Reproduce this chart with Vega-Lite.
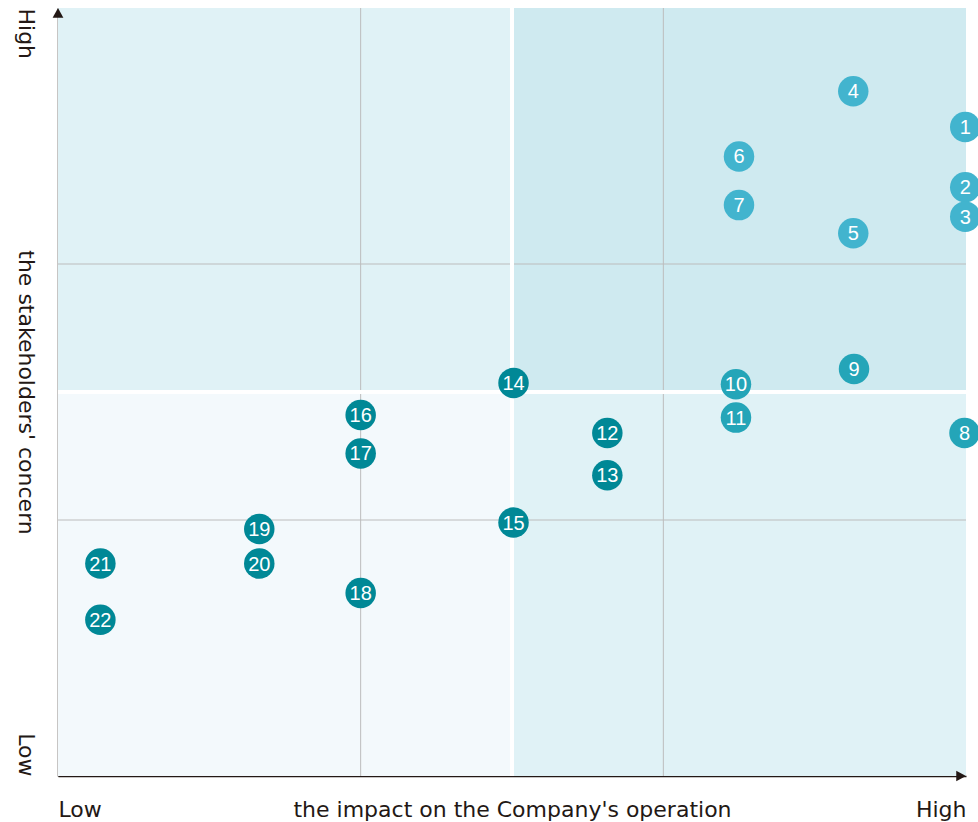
{
  "$schema": "https://vega.github.io/schema/vega-lite/v6.json",
  "width": 908,
  "height": 768,
  "autosize": {"type": "none"},
  "padding": {"left": 58, "top": 8, "right": 12, "bottom": 46},
  "background": "white",
  "config": {"view": {"stroke": null}, "font": "Liberation Sans"},
  "datasets": {
    "quads": [
      {"x1": 0, "x2": 3, "y1": 3, "y2": 6, "fill": "#e0f2f6"},
      {"x1": 3, "x2": 6, "y1": 3, "y2": 6, "fill": "#cfeaf0"},
      {"x1": 0, "x2": 3, "y1": 0, "y2": 3, "fill": "#f3f9fc"},
      {"x1": 3, "x2": 6, "y1": 0, "y2": 3, "fill": "#e0f2f6"}
    ],
    "vgrid": [{"v": 2}, {"v": 4}],
    "mid": [{"v": 3}],
    "arrowTop": [{"x": 0, "y": 6}],
    "arrowRight": [{"x": 6, "y": 0}],
    "points": [
      {"id": "1", "x": 5.995, "y": 5.07, "g": "a"},
      {"id": "2", "x": 5.995, "y": 4.60, "g": "a"},
      {"id": "3", "x": 5.995, "y": 4.37, "g": "a"},
      {"id": "4", "x": 5.255, "y": 5.35, "g": "a"},
      {"id": "5", "x": 5.255, "y": 4.24, "g": "a"},
      {"id": "6", "x": 4.50, "y": 4.84, "g": "a"},
      {"id": "7", "x": 4.50, "y": 4.46, "g": "a"},
      {"id": "8", "x": 5.99, "y": 2.68, "g": "b"},
      {"id": "9", "x": 5.26, "y": 3.18, "g": "b"},
      {"id": "10", "x": 4.48, "y": 3.06, "g": "b"},
      {"id": "11", "x": 4.48, "y": 2.80, "g": "b"},
      {"id": "12", "x": 3.63, "y": 2.68, "g": "c"},
      {"id": "13", "x": 3.63, "y": 2.35, "g": "c"},
      {"id": "14", "x": 3.01, "y": 3.07, "g": "c"},
      {"id": "15", "x": 3.01, "y": 1.98, "g": "c"},
      {"id": "16", "x": 2.0, "y": 2.82, "g": "c"},
      {"id": "17", "x": 2.0, "y": 2.52, "g": "c"},
      {"id": "18", "x": 2.0, "y": 1.43, "g": "c"},
      {"id": "19", "x": 1.33, "y": 1.93, "g": "c"},
      {"id": "20", "x": 1.33, "y": 1.66, "g": "c"},
      {"id": "21", "x": 0.28, "y": 1.66, "g": "c"},
      {"id": "22", "x": 0.28, "y": 1.22, "g": "c"}
    ]
  },
  "layer": [
    {
      "data": {"name": "quads"},
      "mark": {"type": "rect", "strokeWidth": 0},
      "encoding": {
        "x": {
          "field": "x1", "type": "quantitative",
          "scale": {"domain": [0, 6], "nice": false, "zero": false},
          "axis": {
            "values": [0, 6],
            "grid": false,
            "ticks": false,
            "tickSize": 0,
            "labelExpr": "datum.value == 0 ? 'Low' : 'High'",
            "labelAlign": {"condition": {"test": "datum.value == 0", "value": "left"}, "value": "right"},
            "labelBaseline": "alphabetic",
            "labelPadding": 40,
            "labelFont": "DejaVu Sans",
            "labelFontSize": 22,
            "labelColor": "#231815",
            "labelFlush": false,
            "labelOverlap": false,
            "domainColor": "#231815",
            "domainWidth": 1.5,
            "title": "the impact on the Company's operation",
            "titleFont": "DejaVu Sans",
            "titleFontSize": 22,
            "titleFontWeight": "normal",
            "titleColor": "#231815",
            "titleBaseline": "alphabetic",
            "titleAlign": "center",
            "titleX": 454,
            "titleY": 40
          }
        },
        "x2": {"field": "x2"},
        "y": {
          "field": "y1", "type": "quantitative",
          "scale": {"domain": [0, 6], "nice": false, "zero": false},
          "axis": {
            "values": [0, 6],
            "grid": false,
            "ticks": false,
            "tickSize": 0,
            "labelExpr": "datum.value == 0 ? 'Low' : 'High'",
            "labelAngle": 90,
            "labelAlign": {"condition": {"test": "datum.value == 0", "value": "right"}, "value": "left"},
            "labelBaseline": "alphabetic",
            "labelPadding": 40,
            "labelFont": "DejaVu Sans",
            "labelFontSize": 22,
            "labelColor": "#231815",
            "labelFlush": false,
            "labelOverlap": false,
            "domainColor": "#231815",
            "domainWidth": 1.5,
            "title": "the stakeholders' concern",
            "titleFont": "DejaVu Sans",
            "titleFontSize": 22,
            "titleFontWeight": "normal",
            "titleColor": "#231815",
            "titleAngle": 90,
            "titleBaseline": "alphabetic",
            "titleAlign": "center",
            "titleX": -40,
            "titleY": 384
          }
        },
        "y2": {"field": "y2"},
        "fill": {"field": "fill", "type": "nominal", "scale": null}
      }
    },
    {
      "data": {"name": "vgrid"},
      "mark": {"type": "rule", "color": "#bcbcbc", "strokeWidth": 1},
      "encoding": {"x": {"field": "v", "type": "quantitative"}}
    },
    {
      "data": {"name": "vgrid"},
      "mark": {"type": "rule", "color": "#bcbcbc", "strokeWidth": 1},
      "encoding": {"y": {"field": "v", "type": "quantitative"}}
    },
    {
      "data": {"name": "mid"},
      "mark": {"type": "rule", "color": "white", "strokeWidth": 4},
      "encoding": {"x": {"field": "v", "type": "quantitative"}}
    },
    {
      "data": {"name": "mid"},
      "mark": {"type": "rule", "color": "white", "strokeWidth": 4},
      "encoding": {"y": {"field": "v", "type": "quantitative"}}
    },
    {
      "data": {"name": "arrowTop"},
      "mark": {"type": "point", "filled": true, "color": "#231815", "opacity": 1, "shape": "M0,0 L-0.55,1 L0.55,1 Z", "size": 380},
      "encoding": {
        "x": {"field": "x", "type": "quantitative"},
        "y": {"field": "y", "type": "quantitative"}
      }
    },
    {
      "data": {"name": "arrowRight"},
      "mark": {"type": "point", "filled": true, "color": "#231815", "opacity": 1, "shape": "M0,0 L-1,-0.55 L-1,0.55 Z", "size": 380},
      "encoding": {
        "x": {"field": "x", "type": "quantitative"},
        "y": {"field": "y", "type": "quantitative"}
      }
    },
    {
      "data": {"name": "points"},
      "mark": {"type": "circle", "opacity": 1, "size": 930},
      "encoding": {
        "x": {"field": "x", "type": "quantitative"},
        "y": {"field": "y", "type": "quantitative"},
        "color": {
          "field": "g", "type": "nominal", "legend": null,
          "scale": {"domain": ["a", "b", "c"], "range": ["#42b4ce", "#24a5b8", "#008896"]}
        }
      }
    },
    {
      "data": {"name": "points"},
      "mark": {"type": "text", "color": "white", "fontSize": 20, "font": "Liberation Sans", "align": "center", "baseline": "middle", "dy": 1},
      "encoding": {
        "x": {"field": "x", "type": "quantitative"},
        "y": {"field": "y", "type": "quantitative"},
        "text": {"field": "id"}
      }
    }
  ]
}
